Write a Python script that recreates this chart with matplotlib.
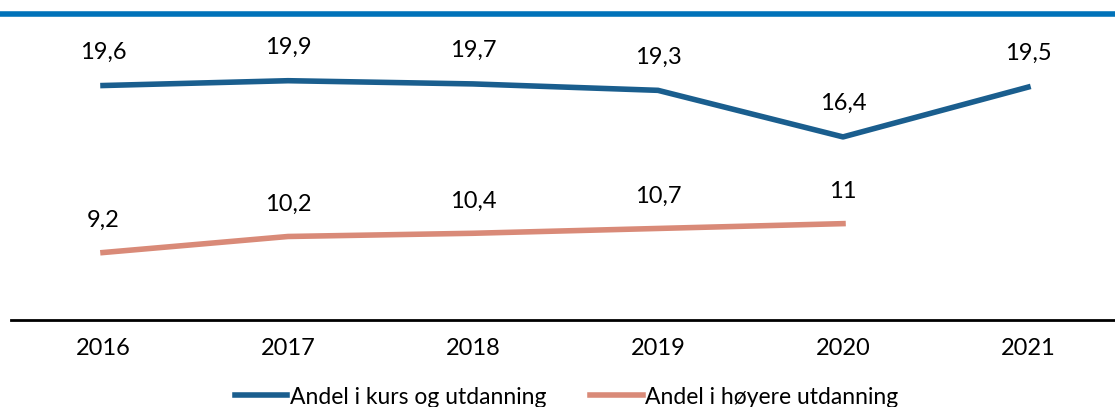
import matplotlib.pyplot as plt
import numpy as np

years = ["2016", "2017", "2018", "2019", "2020", "2021"]
kurs = [19.6, 19.9, 19.7, 19.3, 16.4, 19.5]
hoyere = [9.2, 10.2, 10.4, 10.7, 11.0]
name_kurs = "Andel i kurs og utdanning"
name_hoyere = "Andel i høyere utdanning"

blue = "#1a5e8e"
salmon = "#d98a78"

plt.rcParams['font.family'] = ['Lato', 'DejaVu Sans']

fig = plt.figure(figsize=(11.15, 4.07), dpi=100)
ax = fig.add_axes([10.5 / 1115, 1 - 320 / 407, 1110 / 1115, 320 / 407])

x = np.arange(len(years))
ax.plot(x, kurs, color=blue, lw=4, label=name_kurs)
ax.plot(x[:len(hoyere)], hoyere, color=salmon, lw=4, label=name_hoyere)

def fmt(v):
    s = ("%.1f" % v).replace(".", ",")
    return s[:-2] if s.endswith(",0") else s

for xi, v in zip(x, kurs):
    ax.annotate(fmt(v), (xi, v), xytext=(0, 24), textcoords="offset points",
                ha="center", va="center", fontsize=17)
for xi, v in zip(x, hoyere):
    ax.annotate(fmt(v), (xi, v), xytext=(0, 23), textcoords="offset points",
                ha="center", va="center", fontsize=17)

ax.set_xlim(-0.5, 5.5)
ax.set_ylim(5, 5 + 320 / 16.06)
ax.set_xticks(x)
ax.set_xticklabels(years, fontsize=17)
ax.tick_params(axis="x", length=0, pad=13)
ax.set_yticks([])
for s in ["top", "right", "left"]:
    ax.spines[s].set_visible(False)
ax.spines["bottom"].set_linewidth(2)
ax.spines["bottom"].set_color("black")

fig.legend(loc="center", bbox_to_anchor=(0.508, 1 - 397 / 407), ncol=2, frameon=False,
           fontsize=16.5, handlelength=2.3, handletextpad=0.1, columnspacing=1.9)

fig.add_artist(plt.Line2D([0, 1], [1 - 14 / 407, 1 - 14 / 407], color="#0072b9", lw=4,
                          transform=fig.transFigure))

fig.savefig("out.png", dpi=100)
